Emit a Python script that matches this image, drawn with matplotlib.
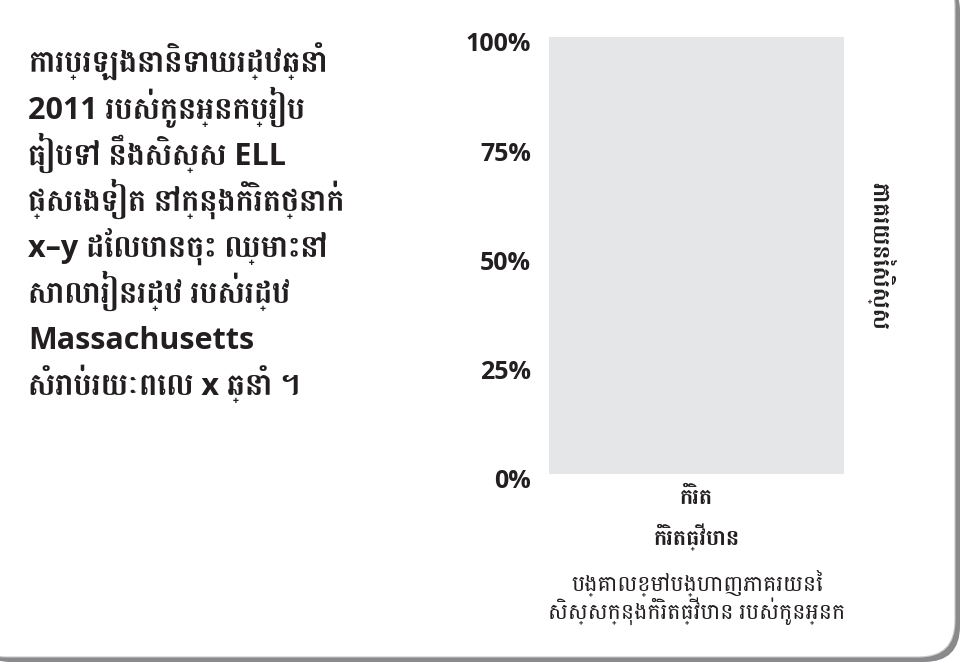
import matplotlib
matplotlib.use("Agg")
import matplotlib.pyplot as plt
import matplotlib.transforms as mtransforms
from matplotlib.patches import FancyBboxPatch

# chart data
categories = ["កំរិត\nកំរិតធ្វើបាន"]
values = [0]
y_ticks = [0, 25, 50, 75, 100]
y_tick_labels = ["0%", "25%", "50%", "75%", "100%"]

title_lines = ["ការប្រឡងនានិទាឃរដ្ឋឆ្នាំ", "2011 របស់កូនអ្នកប្រៀប", "ធៀបទៅ នឹងសិស្ស ELL",
               "ផ្សេងទៀត នៅក្នុងកំរិតថ្នាក់", "x–y ដែលបានចុះ ឈ្មោះនៅ", "សាលារៀនរដ្ឋ របស់រដ្ឋ",
               "Massachusetts", "សំរាប់រយៈពេល x ឆ្នាំ ។"]
y_label = "ភាគរយនៃសិស្ស"
caption_lines = ["បង្គោលខ្មៅបង្ហាញភាគរយនៃ", "សិស្សក្នុងកំរិតធ្វើបាន របស់កូនអ្នក"]

BOLD = ["Open Sans", "Battambang"]
REG = ["Open Sans", "Battambang"]
TEXT = "#231f20"

W, H = 964, 666
fig = plt.figure(figsize=(W / 100, H / 100), dpi=100)

# rounded card with a grey shadow, drawn in pixel coordinates
bg = fig.add_axes([0, 0, 1, 1], zorder=-10)
bg.set_xlim(0, W)
bg.set_ylim(H, 0)
bg.axis("off")
shadow = FancyBboxPatch((-30 + 5, -30 + 5), 985, 687,
                        boxstyle="round,pad=0,rounding_size=36",
                        facecolor="#8a8a8c", edgecolor="none")
card = FancyBboxPatch((-30, -30), 985, 687,
                      boxstyle="round,pad=0,rounding_size=36",
                      facecolor="white", edgecolor="#c8c8c8", linewidth=0.8)
bg.add_patch(shadow)
bg.add_patch(card)

# title, one line at a time so the spacing stays even
for i, line in enumerate(title_lines):
    fig.text(28 / W, 1 - (73 + 46 * i) / H, line, ha="left", va="baseline",
             fontsize=22, fontweight="bold", family=BOLD, color=TEXT)

ax = fig.add_axes([549 / W, 1 - 474 / H, 295 / W, 437 / H])
ax.set_facecolor("#e5e6e8")
ax.bar(range(len(categories)), values, width=0.5, color="black")
ax.set_xlim(-0.5, len(categories) - 0.5)
ax.set_ylim(0, 100)
for s in ax.spines.values():
    s.set_visible(False)

ax.set_yticks(y_ticks)
ax.set_yticklabels(y_tick_labels, fontsize=18, fontweight="bold", family=BOLD, color=TEXT)
ax.tick_params(axis="y", length=0, pad=13)
shift = mtransforms.ScaledTranslation(0, -5 / 100, fig.dpi_scale_trans)
for lbl in ax.get_yticklabels():
    lbl.set_transform(lbl.get_transform() + shift)

ax.set_xticks(range(len(categories)))
ax.set_xticklabels(categories, fontsize=16, fontweight="bold", family=BOLD,
                   color=TEXT, linespacing=1.65)
ax.tick_params(axis="x", length=0, pad=10)

ax.yaxis.set_label_position("right")
ax.set_ylabel(y_label, rotation=-90, fontsize=17, fontweight="bold", family=BOLD,
              color=TEXT, labelpad=16, va="bottom")

for i, line in enumerate(caption_lines):
    fig.text(697 / W, 1 - (590 + 29 * i) / H, line, ha="center", va="baseline",
             fontsize=16, family=REG, color=TEXT)

fig.savefig("out.png", dpi=100)
